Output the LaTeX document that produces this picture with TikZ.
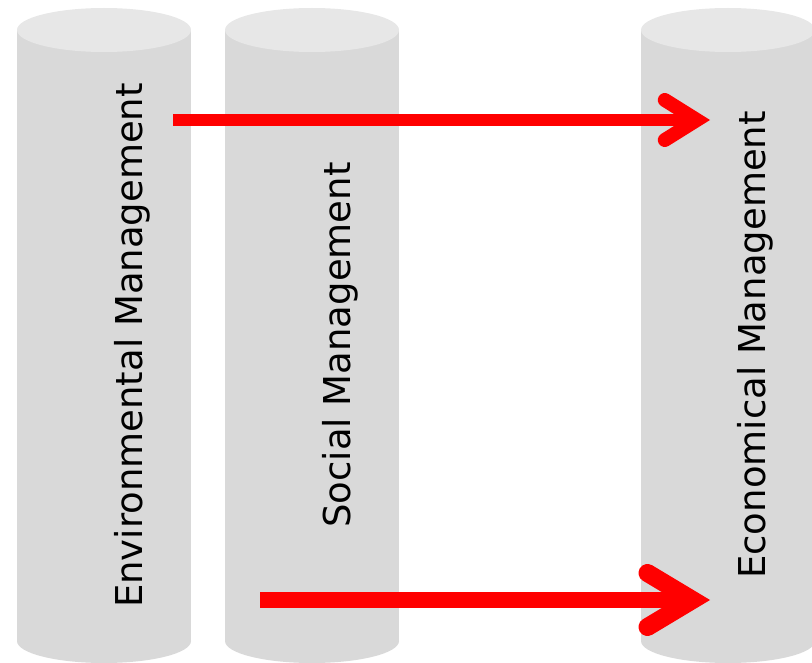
\documentclass[tikz,border=0pt]{standalone}
\usepackage{fontspec}
\setmainfont{DejaVu Sans}
\usetikzlibrary{arrows.meta,positioning}
\definecolor{grisCorps}{RGB}{217,217,217}
\definecolor{grisHaut}{RGB}{231,231,231}
\definecolor{rougeVif}{RGB}{255,0,0}

\tikzset{
  corps/.style={fill=grisCorps, draw=none},
  haut/.style={fill=grisHaut, draw=none},
  pilier/.style={rotate=90, anchor=base, font=\fontsize{37}{44}\selectfont},
  fleche/.style={rougeVif, line width=#1}
}

\begin{document}
\begin{tikzpicture}[x=1pt, y=-1pt]

\useasboundingbox (0,0) rectangle (812,663);

\fill[corps] (17,30) rectangle (191,641);
\fill[corps] (104,641) ellipse [x radius=87, y radius=22];
\fill[haut] (104,30) ellipse [x radius=87, y radius=22];

\fill[corps] (225,30) rectangle (399,641);
\fill[corps] (312,641) ellipse [x radius=87, y radius=22];
\fill[haut] (312,30) ellipse [x radius=87, y radius=22];

\fill[corps] (641,30) rectangle (815,641);
\fill[corps] (728,641) ellipse [x radius=87, y radius=22];
\fill[haut] (728,30) ellipse [x radius=87, y radius=22];

\node[pilier] (env) at (142,345.5) {Environmental Management};
\node[pilier] (soc) at (350,345) {Social Management};
\node[pilier] (eco) at (765,345) {Economical Management};

\coordinate (envDepart) at (173,120);
\coordinate (ecoHaut) at (710,120);
\coordinate (socDepart) at (260,600);
\coordinate (ecoBas) at (710,600);

\draw[fleche=12.5pt, -{Straight Barb[length=32pt, width=40pt, line width=14pt, line cap=round, line join=miter]}] (envDepart) -- (ecoHaut);
\draw[fleche=16pt, -{Straight Barb[length=45pt, width=54pt, line width=18pt, line cap=round, line join=miter]}] (socDepart) -- (ecoBas);

\end{tikzpicture}
\end{document}
